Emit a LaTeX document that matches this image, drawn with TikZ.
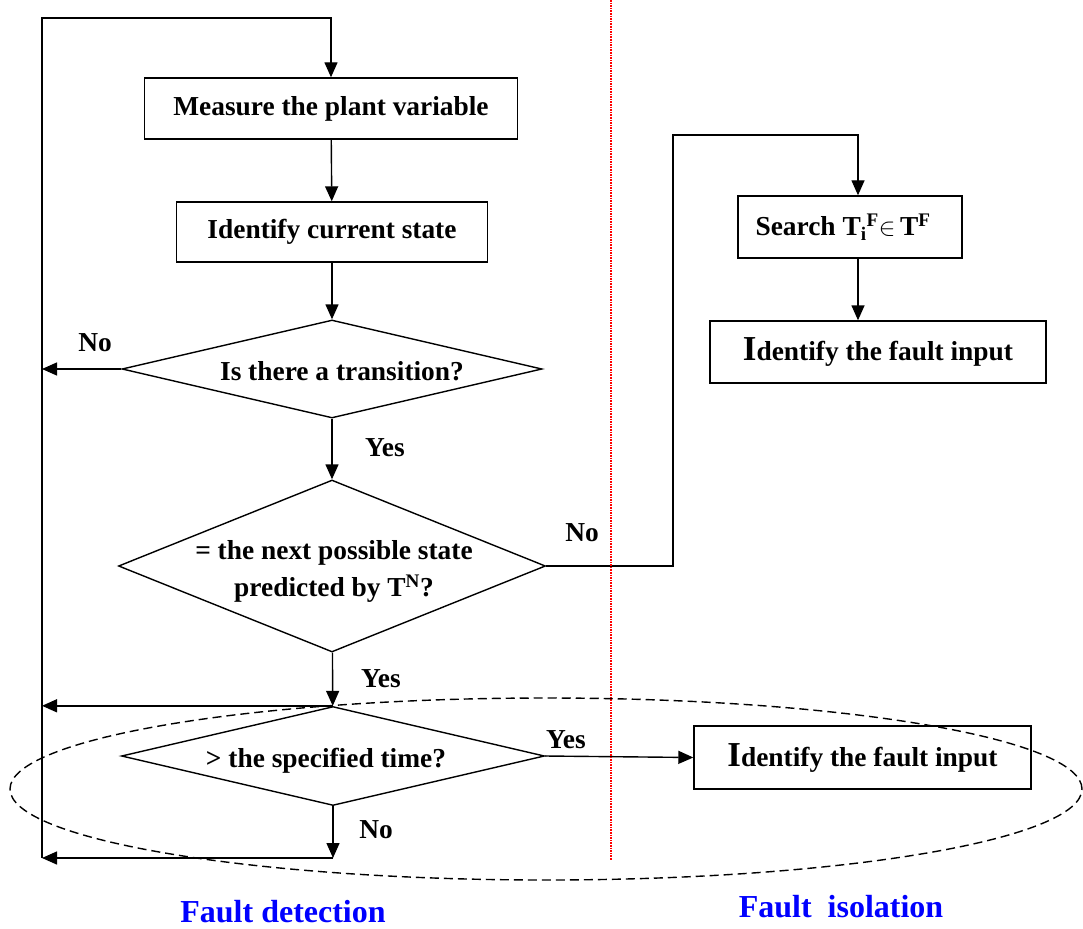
\documentclass[tikz,border=0pt]{standalone}
\usepackage{fontspec}
\setmainfont{Liberation Serif}
\usetikzlibrary{shapes.geometric,arrows.meta}
% zero-size text so a diamond keeps the size it is given
\newcommand{\flattext}[1]{\makebox[0pt]{\smash{\raisebox{-11pt}{\begin{tabular}{@{}c@{}}#1\end{tabular}}}}}
\newcommand{\bigI}{{\fontsize{35}{35}\selectfont I}}
\begin{document}
\begin{tikzpicture}[x=1pt,y=-1pt,
  font=\bfseries\fontsize{27.4}{34}\selectfont,
  flow/.style={line width=1.4pt},
  arr/.style={flow,-{Triangle[length=15pt,width=13pt]}},
  box/.style={draw,line width=1.4pt,inner sep=0pt,align=center},
  dia/.style={draw,diamond,line width=1.4pt,inner sep=0pt},
  lab/.style={inner sep=0pt},
  region/.style={lab,text=blue,font=\bfseries\fontsize{32}{36}\selectfont}]
\useasboundingbox (0,0) rectangle (1083,928);

% process boxes
\node[box,minimum width=373pt,minimum height=61pt] (meas) at (331,108.5) {Measure the plant variable};
\node[box,minimum width=311pt,minimum height=60pt] (ident) at (332,232) {Identify current state};
\node[box,minimum width=224pt,minimum height=62pt] (search) at (850,227)
  {\hspace*{-14pt}Search T\textsubscript{i}\textsuperscript{F}$\in$\,T\textsuperscript{F}};
\node[box,minimum width=336pt,minimum height=62pt] (fault1) at (878,352) {\bigI dentify the fault input};
\node[box,minimum width=337pt,minimum height=63pt] (fault2) at (862.5,757.5) {\bigI dentify the fault input};

% decisions
\node[dia,minimum width=420pt,minimum height=98pt] (trans) at (332,369) {\hspace*{20pt}\flattext{Is there a transition?}};
\node[dia,minimum width=427pt,minimum height=172pt] (pred) at (332,566)
  {\hspace*{4pt}\flattext{= the next possible state\\[3pt] predicted by T\textsuperscript{N}?}};
\node[dia,minimum width=423pt,minimum height=99pt] (time) at (333,756) {\hspace*{-14pt}\flattext{> the specified time?}};

% loop rail on the left
\coordinate (lt) at (42,18);
\coordinate (lb) at (42,858);
\coordinate (ax) at (858,0);
\coordinate (bend) at (673,135);

\draw[arr] (lb) -- (lt) -| (meas.north);
\draw[arr] (meas) -- (ident);
\draw[arr] (ident) -- (trans);
\draw[arr] (trans.west) -- (trans.west -| lt);
\draw[arr] (trans) -- (pred);
\draw[arr] (pred.east) -| (bend) -| (search.north -| ax);
\draw[arr] (search.south -| ax) -- (fault1.north -| ax);
\draw[arr] (pred) -- (time);
\draw[arr] (time.north) -- (time.north -| lt);
\draw[arr] (time.east) -- (fault2.west);
\draw[arr] (time.south) -- (time.south |- lb);
\draw[arr] (time.south |- lb) -- (lb);

% branch labels
\node[lab] (n1) at (95,343) {No};
\node[lab] (y1) at (385,448) {Yes};
\node[lab] (n2) at (582,533) {No};
\node[lab] (y2) at (381,679) {Yes};
\node[lab] (y3) at (566,740) {Yes};
\node[lab] (n3) at (376,830) {No};

% divider between the two stages
\draw[red,line width=1.3pt,dash pattern=on 1.6pt off 1pt] (611,0) -- (611,860);

% dashed ellipse around the timing check
\draw[dash pattern=on 9pt off 5pt,line width=1.4pt] (546,789) ellipse [x radius=536pt,y radius=91pt];

% stage titles
\node[region] (det) at (283,912) {Fault detection};
\node[region] (iso) at (841,907) {Fault\ \ isolation};
\end{tikzpicture}
\end{document}
